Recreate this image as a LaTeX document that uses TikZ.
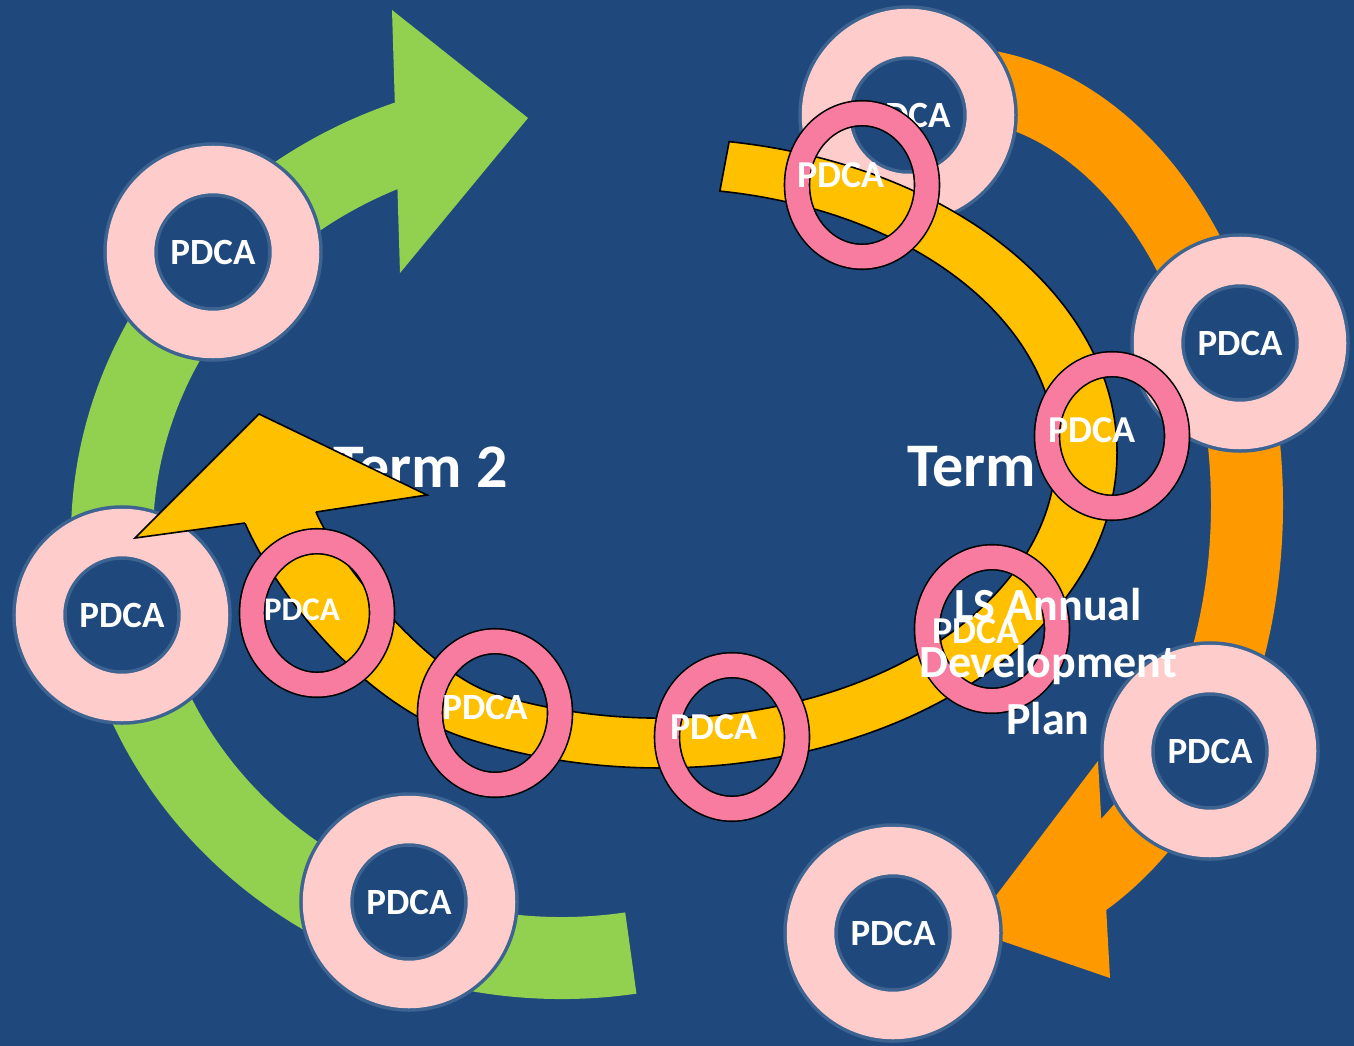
\documentclass[tikz,border=0pt]{standalone}
\usepackage{fontspec}
\setmainfont{Carlito}
\usetikzlibrary{shapes.geometric}
\definecolor{bg}{HTML}{1F497D}
\definecolor{arrowgreen}{HTML}{92D050}
\definecolor{arroworange}{HTML}{FF9900}
\definecolor{arrowyellow}{HTML}{FFC000}
\definecolor{ringpink}{HTML}{FFCCCC}
\definecolor{ringedge}{HTML}{3D6391}
\definecolor{hotpink}{HTML}{F77CA0}
\begin{document}
\begin{tikzpicture}[x=1pt,y=-1pt,
  bigring/.style={circle, inner sep=0pt, minimum size=165pt, fill=bg,
    draw=ringedge, line width=3.5pt, double=ringpink, double distance=47.5pt,
    text=white, font=\fontsize{37}{44}\selectfont\bfseries},
  smallring/.style={ellipse, inner sep=0pt, minimum width=130pt,
    minimum height=143.5pt, draw=black, line width=1.6pt,
    double=hotpink, double distance=23.4pt},
  ringlabel/.style={text=white, inner sep=0pt,
    font=\fontsize{38}{44}\selectfont\bfseries},
  termlabel/.style={text=white, inner sep=0pt,
    font=\fontsize{62}{70}\selectfont\bfseries},
  planlabel/.style={text=white, inner sep=0pt, align=center,
    font=\fontsize{46}{57}\selectfont\bfseries},
  yellowband/.style={fill=arrowyellow, draw=black, line width=1.6pt, line join=miter}]

\useasboundingbox (0,0) rectangle (1354,1046);
\fill[bg] (0,0) rectangle (1354,1046);

% term captions (partly covered by the yellow arrow)
\node[termlabel, anchor=base east] (term2) at (508,487) {Term 2};
\node[termlabel, anchor=base west] (term1) at (907,486) {Term};

% green arc arrow
\coordinate (gc) at (562,537);
\draw[line width=82pt, draw=arrowgreen] (gc) ++(81.2:450 and 421)
  arc[start angle=81.2, end angle=251, x radius=450, y radius=421];
\fill[arrowgreen] (392,10) -- (528,118) -- (400,273) -- cycle;

% orange arc arrow
\coordinate (oc) at (950,505);
\draw[line width=72pt, draw=arroworange] (oc) ++(-94:297 and 422)
  arc[start angle=-94, end angle=66, x radius=297, y radius=422];
\fill[arroworange] (1098,761) -- (970,930) -- (1110,978) -- cycle;

% large PDCA rings
\node[bigring] (b1) at (908,115) {PDCA};
\node[bigring] (b2) at (1240,343) {PDCA};
\node[bigring] (b3) at (1210,751) {PDCA};
\node[bigring] (b4) at (893,933) {PDCA};
\node[bigring] (b5) at (409,902) {PDCA};
\node[bigring] (b6) at (122,615) {PDCA};
\node[bigring] (b7) at (213,252) {PDCA};

% yellow arc arrow
\coordinate (yc) at (660,453);
\filldraw[yellowband] (yc) ++(-81.3:457 and 315)
  arc[start angle=-81.3, end angle=115, x radius=457, y radius=315]
  .. controls (353,702) and (268,578) .. (245,523) -- (240,512) -- (311,501)
  -- (316,512) .. controls (335,558) and (426,672) .. (492.6,693.2)
  arc[start angle=115, end angle=-81.3, x radius=396, y radius=265] -- cycle;
\filldraw[yellowband] (245,523) -- (135,538) -- (259,414) -- (427,495) -- (316,512);

% small PDCA rings
\node[smallring] (s1) at (862,185) {};
\node[smallring] (s2) at (1112,436) {};
\node[smallring] (s3) at (992,629) {};
\node[smallring] (s4) at (732,737) {};
\node[smallring] (s5) at (495,713) {};
\node[smallring] (s6) at (317,613) {};
\node[ringlabel] (t1) at (841,175) {PDCA};
\node[ringlabel] (t2) at (1092,430) {PDCA};
\node[ringlabel] (t3) at (976,631) {PDCA};
\node[ringlabel] (t4) at (714,727) {PDCA};
\node[ringlabel, font=\fontsize{37}{44}\selectfont\bfseries] (t5) at (485,707) {PDCA};
\node[ringlabel, font=\fontsize{33}{40}\selectfont\bfseries] (t6) at (302,610) {PDCA};

% plan caption (base anchor sits on the last line)
\node[planlabel, anchor=base] (plan) at (1048,734) {LS Annual\\Development\\Plan};
\end{tikzpicture}
\end{document}
